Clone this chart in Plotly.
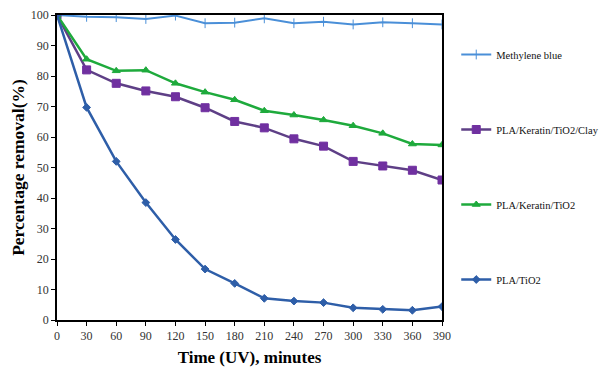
import plotly.graph_objects as go

time = [0, 30, 60, 90, 120, 150, 180, 210, 240, 270, 300, 330, 360, 390]
methylene_blue = [100, 99.4, 99.3, 98.7, 99.8, 97.3, 97.5, 98.9, 97.3, 97.8, 96.9, 97.6, 97.3, 96.9]
pla_keratin_tio2_clay = [100, 82.0, 77.6, 75.1, 73.2, 69.6, 65.1, 63.0, 59.4, 57.0, 52.0, 50.5, 49.1, 45.9]
pla_keratin_tio2 = [100, 85.5, 81.7, 81.9, 77.6, 74.7, 72.2, 68.6, 67.2, 65.6, 63.7, 61.2, 57.7, 57.4]
pla_tio2 = [100, 69.7, 52.0, 38.5, 26.4, 16.7, 12.0, 7.1, 6.2, 5.7, 4.0, 3.5, 3.2, 4.4]

series = [
    ("Methylene blue", methylene_blue, "#4a8fd8", "#4a8fd8", "line-ns", 7, 1),
    ("PLA/Keratin/TiO2/Clay", pla_keratin_tio2_clay, "#5e3f86", "#7030a0", "square", 8, 2),
    ("PLA/Keratin/TiO2", pla_keratin_tio2, "#1eaa3c", "#1eaa3c", "triangle-up", 7, 3),
    ("PLA/TiO2", pla_tio2, "#2e5ea8", "#2e5ea8", "diamond", 6, 4),
]

fig = go.Figure()
for name, vals, lc, mc, sym, size, g in series:
    fig.add_trace(go.Scatter(
        x=time, y=vals, name=name, mode="lines+markers",
        line=dict(color=lc, width=2.5 if g > 1 else 2),
        marker=dict(symbol=sym, size=size, color=mc,
                    line=dict(color=mc, width=1)),
        legendgroup=str(g),
    ))

font_serif = "Liberation Serif"
fig.update_layout(
    width=604, height=359,
    margin=dict(l=49, r=170, t=7, b=47, autoexpand=False),
    paper_bgcolor="white", plot_bgcolor="white",
    font=dict(family=font_serif, size=12, color="#333333"),
    showlegend=True,
    legend=dict(x=1.037, y=0.918, xanchor="left", yanchor="top",
                tracegroupgap=56, font=dict(family=font_serif, size=10.5, color="#111111"),
                itemwidth=30, bgcolor="rgba(0,0,0,0)"),
    xaxis=dict(range=[0, 390], tickvals=time, ticks="outside", ticklen=4,
               tickcolor="#000000", showline=True, linecolor="#000000", linewidth=1.5,
               mirror=True, showgrid=False, zeroline=False, automargin=False,
               title=dict(text="<b>Time (UV), minutes</b>", font=dict(family=font_serif, size=17, color="#000000"),
                          standoff=10),
               tickfont=dict(family=font_serif, size=12, color="#333333")),
    yaxis=dict(range=[0, 100], dtick=10, ticks="outside", ticklen=4,
               tickcolor="#000000", showline=True, linecolor="#000000", linewidth=1.5,
               mirror=True, showgrid=False, zeroline=False, automargin=False,
               title=dict(text="<b>Percentage removal(%)</b>", font=dict(family=font_serif, size=17.5, color="#000000"),
                          standoff=8),
               tickfont=dict(family=font_serif, size=12, color="#333333")),
)

fig.write_html("out.html")
